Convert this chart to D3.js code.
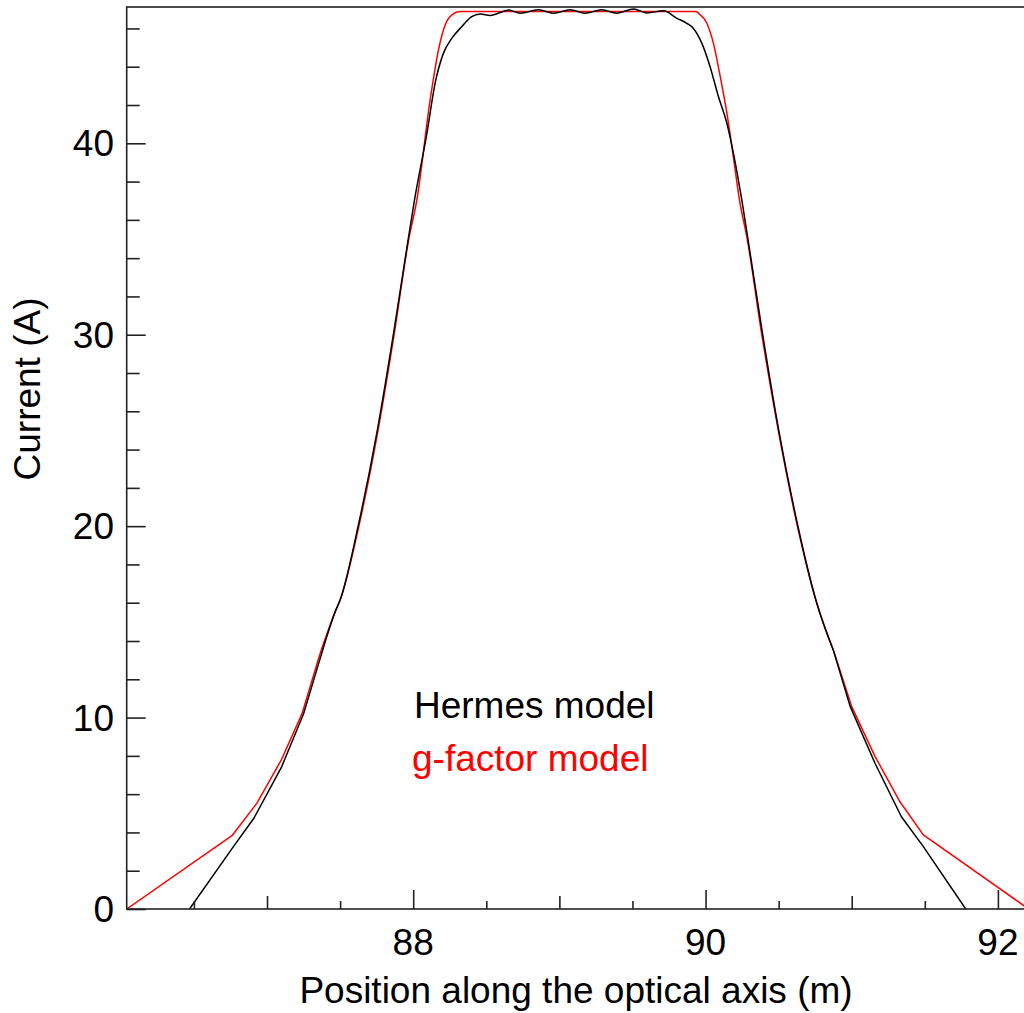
<!DOCTYPE html>
<html>
<head>
<meta charset="utf-8">
<script src="https://cdn.jsdelivr.net/npm/d3@7"></script>
<style>
  body { margin: 0; background: #fff; }
  text { font-family: "Liberation Sans", Arial, sans-serif; }
</style>
</head>
<body>
<div id="chart"></div>
<script>
// Hermes model (black)
const hermesX = [86.47, 86.77, 86.91, 87.10, 87.25, 87.36, 87.47, 87.50, 87.625, 87.755, 87.865, 87.966, 88.009, 88.094, 88.15, 88.207, 88.265, 88.333, 88.40, 88.458, 88.527, 88.595, 88.652, 88.732, 88.857, 88.96, 89.074, 89.176, 89.29, 89.393, 89.507, 89.598, 89.712, 89.804, 89.872, 89.917, 89.975, 90.031, 90.088, 90.146, 90.19, 90.248, 90.29, 90.39, 90.50, 90.63, 90.756, 90.875, 90.99, 91.16, 91.34, 91.49, 91.78]
const hermesY = [0, 3.26, 4.74, 7.43, 10.2, 13.0, 15.6, 16.14, 20.06, 25.03, 30.04, 35.0, 37.04, 40.53, 43.14, 44.71, 45.49, 46.1, 46.62, 46.76, 46.68, 46.83, 46.96, 46.8, 46.97, 46.8, 46.97, 46.8, 46.97, 46.8, 47.02, 46.81, 46.92, 46.53, 46.27, 46.0, 45.22, 44.0, 42.44, 41.05, 39.5, 37.04, 35.0, 30.04, 25.03, 20.06, 16.1, 13.5, 10.57, 7.6, 4.82, 3.26, 0]

// g-factor model (red)
const gfactorX = [86.04, 86.76, 86.93, 87.10, 87.24, 87.36, 87.47, 87.50, 87.63, 87.76, 87.87, 87.97, 88.025, 88.116, 88.173, 88.219, 88.265, 88.321, 89.935, 89.951, 90.009, 90.054, 90.10, 90.146, 90.19, 90.232, 90.285, 90.384, 90.497, 90.627, 90.756, 90.875, 91.0, 91.16, 91.33, 91.49, 92.21]
const gfactorY = [0, 3.83, 5.52, 7.82, 10.22, 13.27, 15.6, 16.14, 20.06, 25.03, 30.04, 35.0, 37.04, 42.27, 44.88, 46.19, 46.71, 46.88, 46.88, 46.8, 46.27, 45.22, 43.5, 41.57, 39.3, 37.04, 35.0, 30.04, 25.03, 20.06, 16.1, 13.5, 10.57, 7.96, 5.6, 3.87, 0]

const xMajor = [88, 90, 92]
const yMajor = [0, 10, 20, 30, 40]
const legendLabels = ['Hermes model', 'g-factor model']

let width = 1024, height = 1013
let plot = {left: 126.7, top: 7, right: 1028.6, bottom: 909}
let fontSize = 37

let svg = d3.select('#chart').append('svg')
    .attr('width', width).attr('height', height)

let scX = d3.scaleLinear().domain([86.04, 92.21]).range([plot.left, plot.right])
let scY = d3.scaleLinear().domain([0, 47.12]).range([plot.bottom, plot.top])

svg.append('clipPath').attr('id', 'clip')
    .append('rect')
    .attr('x', plot.left).attr('y', plot.top)
    .attr('width', plot.right - plot.left).attr('height', plot.bottom - plot.top)

// the low wings are coarse straight segments, the upper part is smooth
let linear = d3.line().x(d => scX(d[0])).y(d => scY(d[1]))
let smooth = d3.line().x(d => scX(d[0])).y(d => scY(d[1])).curve(d3.curveMonotoneX)

let series = [
    {xs: gfactorX, ys: gfactorY, color: '#ff0000'},
    {xs: hermesX, ys: hermesY, color: '#000000'}
]
series.forEach(s => {
    let pts = s.xs.map((x, i) => [x, s.ys[i]])
    // first and last point at/above 13 A
    let a = pts.findIndex(p => p[1] >= 13)
    let b = pts.length - 1 - [...pts].reverse().findIndex(p => p[1] >= 13)
    let g = svg.append('g').attr('clip-path', 'url(#clip)')
    let parts = [
        linear(pts.slice(0, a + 1)),
        smooth(pts.slice(a, b + 1)),
        linear(pts.slice(b))
    ]
    parts.forEach(d => {
        g.append('path')
            .attr('d', d)
            .attr('fill', 'none')
            .attr('stroke', s.color)
            .attr('stroke-width', 1.5)
            .attr('stroke-linejoin', 'round')
    })
})

// frame
svg.append('rect')
    .attr('x', plot.left).attr('y', plot.top)
    .attr('width', plot.right - plot.left).attr('height', plot.bottom - plot.top)
    .attr('fill', 'none').attr('stroke', '#222').attr('stroke-width', 1.6)

// y ticks (major every 10, minor every 2), drawn inward
let yAxis = d3.axisRight(scY).tickValues(d3.range(0, 47, 2))
    .tickSize(0).tickFormat('')
let gy = svg.append('g').attr('transform', `translate(${plot.left},0)`).call(yAxis)
gy.select('.domain').remove()
gy.selectAll('.tick line')
    .attr('x2', d => d % 10 === 0 ? 19 : 13)
    .attr('stroke', '#222').attr('stroke-width', 1.6)

// x ticks (88/90/92 long, integers medium, halves short), drawn upward
let xAxis = d3.axisTop(scX).tickValues(d3.range(86.5, 92.3, 0.5))
    .tickSize(0).tickFormat('')
let gx = svg.append('g').attr('transform', `translate(0,${plot.bottom})`).call(xAxis)
gx.select('.domain').remove()
gx.selectAll('.tick line')
    .attr('y2', d => xMajor.includes(d) ? -19 : (Number.isInteger(d) ? -13 : -8))
    .attr('stroke', '#222').attr('stroke-width', 1.6)

function label(x, y, str, anchor, color) {
    return svg.append('text')
        .attr('x', x).attr('y', y)
        .attr('text-anchor', anchor)
        .attr('font-size', fontSize)
        .attr('fill', color || '#000')
        .text(str)
}

// tick labels
yMajor.forEach(v => label(114, scY(v) + 13, v, 'end'))
xMajor.forEach(v => label(scX(v), 955, v, 'middle'))

// axis titles
label(576, 1003, 'Position along the optical axis (m)', 'middle')
svg.append('text')
    .attr('transform', 'translate(40,389) rotate(-90)')
    .attr('text-anchor', 'middle')
    .attr('font-size', fontSize)
    .text('Current (A)')

// legend
label(414, 718, legendLabels[0], 'start', '#000')
label(412, 771, legendLabels[1], 'start', '#ff0000')
</script>
</body>
</html>
